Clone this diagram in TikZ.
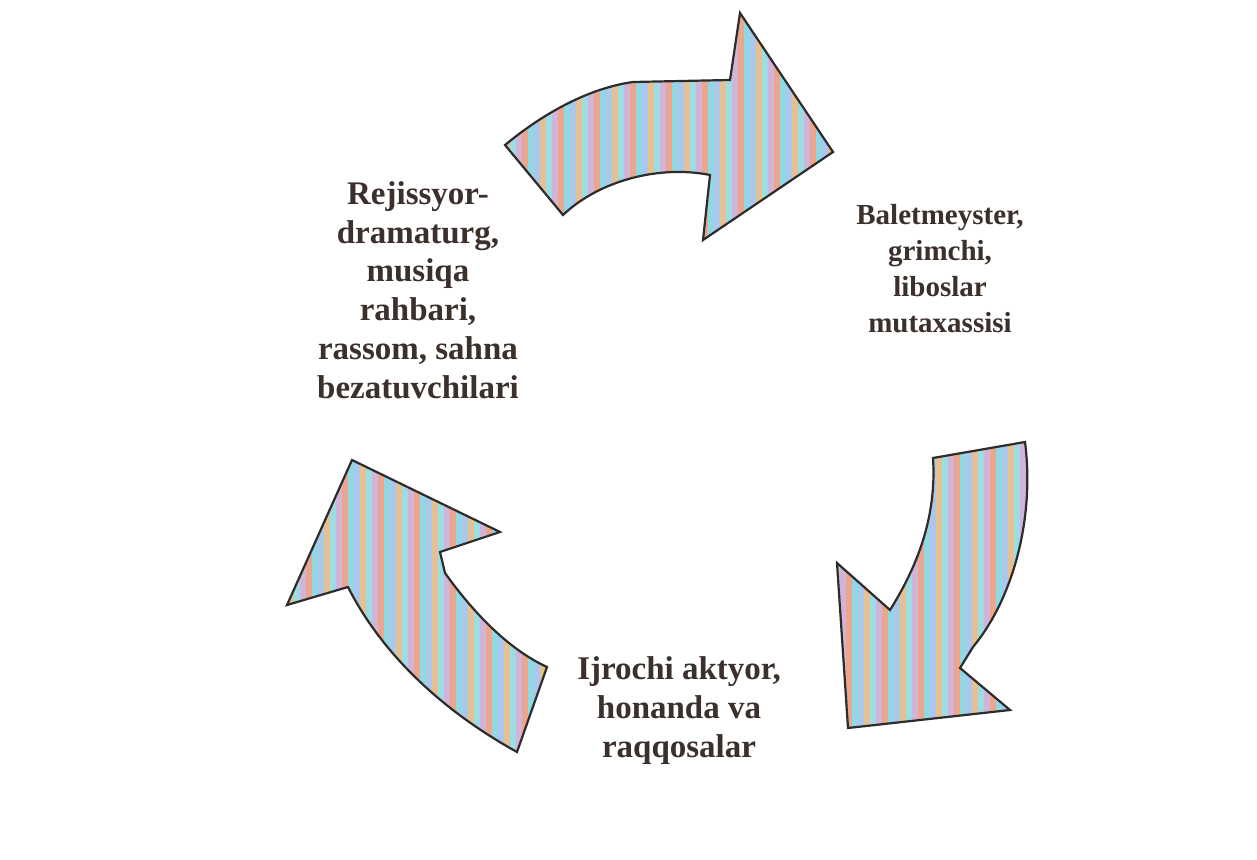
\documentclass[tikz,border=0pt]{standalone}
\usepackage{fontspec}
\setmainfont{Liberation Serif}
\definecolor{txt}{HTML}{3B302C}
\definecolor{edge}{HTML}{2E2B2B}
\definecolor{s0}{HTML}{EBA78E}
\definecolor{s1}{HTML}{90D8E4}
\definecolor{s2}{HTML}{ABC8EC}
\definecolor{s3}{HTML}{E4C192}
\definecolor{s4}{HTML}{9EDCE4}
\definecolor{s5}{HTML}{D2B4D8}
\begin{document}
\begin{tikzpicture}[x=0.5pt,y=-0.5pt,
  label/.style={font=\bfseries, text=txt, align=center, inner sep=0pt},
  outline/.style={draw=edge, line width=1.1pt, line join=miter}]
\useasboundingbox (0,0) rectangle (1257,860);
\fill[white] (0,0) rectangle (1257,860);
% arrow shapes
\def\toparrow{(505,145) .. controls (545,112) and (590,88) .. (633,82) -- (730,80) -- (740,13) -- (833,152) -- (703,240) -- (710,175) .. controls (660,165) and (600,180) .. (563,215) -- cycle}
\def\rightarrow{(933,458) -- (1025,442) .. controls (1035,520) and (1012,600) .. (973,647) -- (960,668) -- (1010,710) -- (848,728) -- (837,563) -- (890,610) .. controls (915,570) and (937,520) .. (933,458) -- cycle}
\def\leftarrow{(352,460) -- (500,532) -- (440,552) -- (445,573) .. controls (475,615) and (510,650) .. (547,667) -- (517,752) .. controls (450,715) and (385,660) .. (348,587) -- (287,605) -- cycle}
\foreach \shape in {\toparrow,\rightarrow,\leftarrow}{
  \begin{scope}
    \clip \shape;
    \foreach \i in {0,...,130}{
      \pgfmathtruncatemacro\k{mod(\i,6)}
      \fill[s\k] ({270+6*\i},0) rectangle ({276+6*\i},860);
    }
  \end{scope}
  \draw[outline] \shape;
}
% labels
\node[label, font=\bfseries\fontsize{16.5}{19.4}\selectfont] (lt) at (418,290)
  {Rejissyor-\\dramaturg,\\musiqa\\rahbari,\\rassom, sahna\\bezatuvchilari};
\node[label, font=\bfseries\fontsize{14.5}{18}\selectfont] (rt) at (940,269)
  {Baletmeyster,\\grimchi,\\liboslar\\mutaxassisi};
\node[label, font=\bfseries\fontsize{16.5}{19.5}\selectfont] (bt) at (679,711)
  {Ijrochi aktyor,\\honanda va\\raqqosalar};
\end{tikzpicture}
\end{document}
